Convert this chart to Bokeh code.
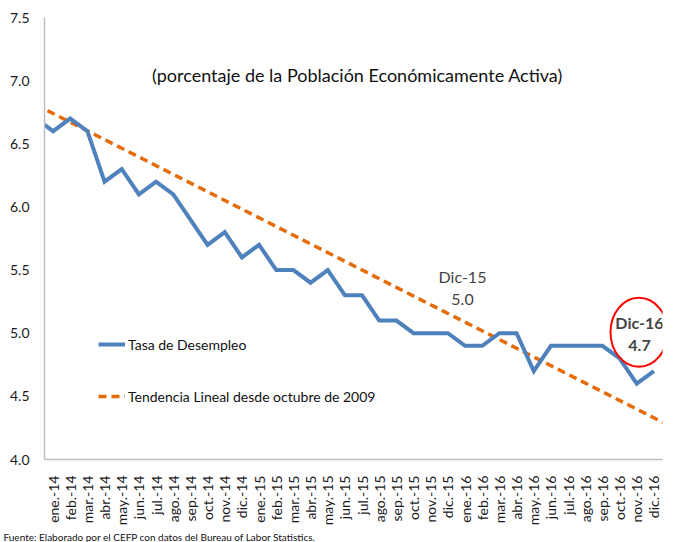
import math
from bokeh.plotting import figure
from bokeh.models import Range1d, FixedTicker, Label, Legend, LegendItem, PrintfTickFormatter, Title
from bokeh.embed import file_html
from bokeh.resources import INLINE

# ---------------- data ----------------
months = ["ene.-14", "feb.-14", "mar.-14", "abr.-14", "may.-14", "jun.-14",
          "jul.-14", "ago.-14", "sep.-14", "oct.-14", "nov.-14", "dic.-14",
          "ene.-15", "feb.-15", "mar.-15", "abr.-15", "may.-15", "jun.-15",
          "jul.-15", "ago.-15", "sep.-15", "oct.-15", "nov.-15", "dic.-15",
          "ene.-16", "feb.-16", "mar.-16", "abr.-16", "may.-16", "jun.-16",
          "jul.-16", "ago.-16", "sep.-16", "oct.-16", "nov.-16", "dic.-16"]
unemployment = [6.6, 6.7, 6.6, 6.2, 6.3, 6.1, 6.2, 6.1, 5.9, 5.7, 5.8, 5.6,
                5.7, 5.5, 5.5, 5.4, 5.5, 5.3, 5.3, 5.1, 5.1, 5.0, 5.0, 5.0,
                4.9, 4.9, 5.0, 5.0, 4.7, 4.9, 4.9, 4.9, 4.9, 4.8, 4.6, 4.7]
prev_value = 6.7          # dic.-13 (only its segment enters the chart)
trend_first = 6.74        # linear trend at ene.-14
trend_last = 4.33         # linear trend at dic.-16
y_ticks = [4.0, 4.5, 5.0, 5.5, 6.0, 6.5, 7.0, 7.5]

title_text = "(porcentaje de la Población Económicamente Activa)"
series_name = "Tasa de Desempleo"
trend_name = "Tendencia Lineal desde octubre de 2009"
source_text = "Fuente: Elaborado por el CEFP con datos del Bureau of Labor Statistics."

BLUE = "#4F81BD"
ORANGE = "#E46C0A"
FONT = "Lato"

n = len(months)
idx = list(range(n))

p = figure(width=673, height=542, output_backend="svg", toolbar_location=None,
           x_range=Range1d(-0.5, n - 0.5), y_range=Range1d(y_ticks[0], y_ticks[-1]),
           min_border_left=44, min_border_right=11, min_border_top=17, min_border_bottom=82)
p.outline_line_color = None
p.grid.visible = False
p.background_fill_color = "white"

# trend line, extended half a month beyond both edges (clipped by the frame)
slope = (trend_last - trend_first) / (n - 1)
trend_x = [-1, n]
trend_y = [trend_first - slope, trend_last + slope]
r_trend = p.line(trend_x, trend_y, line_color=ORANGE, line_width=3.5, line_dash="8 5")

r_main = p.line([-1] + idx, [prev_value] + unemployment, line_color=BLUE, line_width=4,
                line_join="miter")

# axes
p.yaxis.ticker = FixedTicker(ticks=y_ticks)
p.yaxis.formatter = PrintfTickFormatter(format="%.1f")
p.xaxis.ticker = FixedTicker(ticks=idx)
p.xaxis.major_label_overrides = {i: m for i, m in enumerate(months)}
p.xaxis.major_label_orientation = math.pi / 2
for ax in (p.xaxis, p.yaxis):
    ax.axis_line_color = "#BEBEBE"
    ax.axis_line_width = 1.5
    ax.major_tick_line_color = None
    ax.minor_tick_line_color = None
    ax.major_label_text_font = FONT
    ax.major_label_text_color = "#1a1a1a"
p.yaxis.major_label_text_font_size = "14px"
p.yaxis.major_label_standoff = 9
p.xaxis.major_label_text_font_size = "14px"
p.xaxis.major_label_standoff = 10

# source note below the axis labels
p.add_layout(Title(text=source_text, align="left", offset=-41, standoff=0,
                   text_font=FONT, text_font_size="10px",
                   text_font_style="normal", text_color="#111111"), "below")

# helpers converting reference-pixel placement to data coordinates
def rx(px):
    return -0.5 + (px - 44) * n / 618.0

def ry(py):
    return 7.5 - (py - 17) * 3.5 / 443.0

p.add_layout(Label(x=rx(357), y=ry(75), text=title_text, text_font=FONT,
                   text_font_size="18px", text_align="center", text_baseline="middle",
                   text_color="#111111"))

dic15 = months.index("dic.-15")
p.add_layout(Label(x=rx(462), y=ry(277), text="Dic-15", text_font=FONT,
                   text_font_size="16px", text_align="center", text_baseline="middle"))
p.add_layout(Label(x=rx(462), y=ry(300), text=f"{unemployment[dic15]:.1f}", text_font=FONT,
                   text_font_size="16px", text_align="center", text_baseline="middle"))

p.ellipse(x=[rx(638.5)], y=[ry(332.5)], width=57, height=69,
          width_units="screen", height_units="screen",
          fill_color=None, line_color="#FF0000", line_width=2)
p.add_layout(Label(x=rx(639), y=ry(323), text="Dic-16", text_font=FONT,
                   text_font_size="16px", text_font_style="bold",
                   text_align="center", text_baseline="middle"))
p.add_layout(Label(x=rx(639), y=ry(346), text=f"{unemployment[-1]:.1f}", text_font=FONT,
                   text_font_size="16px", text_font_style="bold",
                   text_align="center", text_baseline="middle"))

legend = Legend(items=[LegendItem(label=series_name, renderers=[r_main]),
                       LegendItem(label=trend_name, renderers=[r_trend])],
                location=(54, 53), orientation="vertical", spacing=32, padding=0,
                margin=0, border_line_color=None, background_fill_alpha=0,
                glyph_width=27, glyph_height=20, label_standoff=3,
                label_text_font=FONT, label_text_font_size="14px",
                label_text_color="#111111")
p.add_layout(legend, "center")

open("out.html", "w").write(file_html(p, INLINE))
